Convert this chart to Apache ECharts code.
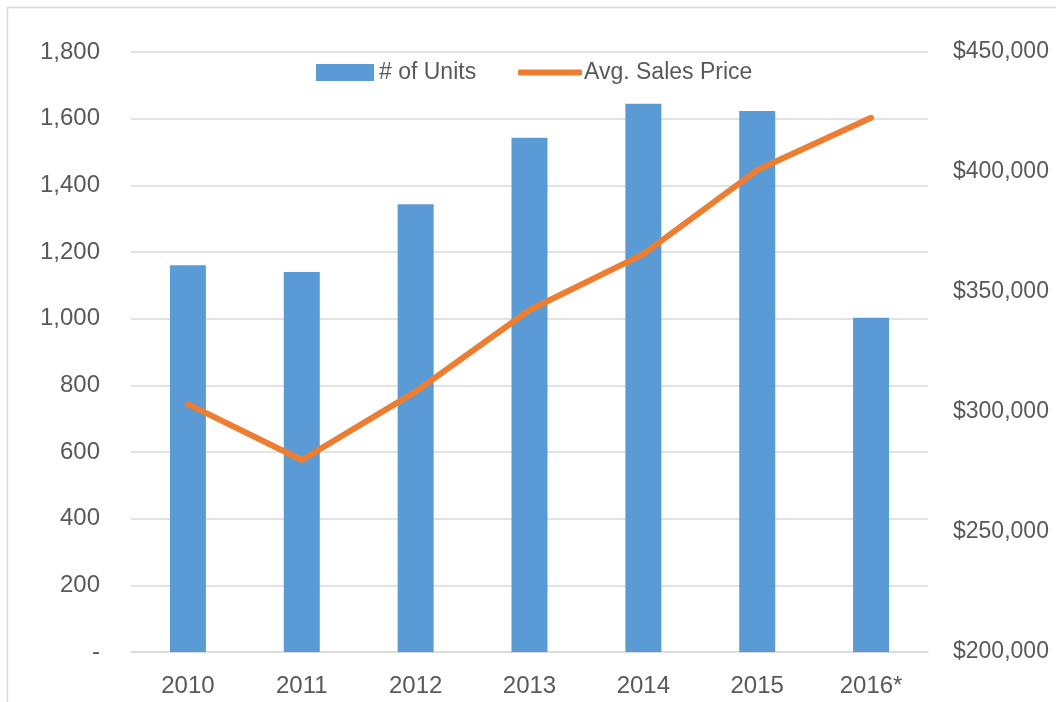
<!DOCTYPE html>
<html>
<head>
<meta charset="utf-8">
<title># of Units and Avg. Sales Price</title>
<script src="https://cdn.jsdelivr.net/npm/echarts@6/dist/echarts.min.js"></script>
<style>
  html, body { margin: 0; padding: 0; background: #ffffff; }
  #chart { width: 1056px; height: 702px; }
</style>
</head>
<body>
<div id="chart"></div>
<script>
// Yearly figures
const categories = ['2010', '2011', '2012', '2013', '2014', '2015', '2016*'];
const units = [1160, 1140, 1343, 1543, 1645, 1623, 1003];
const avgPrice = [303300, 280000, 308500, 342500, 365800, 400800, 422600];

// Axis ranges
const unitsAxis = { min: 0, max: 1800, interval: 200 };
const priceAxis = { min: 200000, max: 450000, interval: 50000 };

const textColor = '#595959';
const gridColor = '#d9d9d9';
const barColor = '#5b9bd5';
const lineColor = '#ed7d31';
const fontFamily = '"Liberation Sans", Arial, sans-serif';
const fontSize = 24;

function withCommas(v) {
  return String(Math.round(v)).replace(/\B(?=(\d{3})+(?!\d))/g, ',');
}

const chart = echarts.init(document.getElementById('chart'), null, { renderer: 'canvas' });

chart.setOption({
  animation: false,
  backgroundColor: '#ffffff',
  textStyle: { fontFamily: fontFamily },
  graphic: [{
    type: 'rect',
    silent: true,
    shape: { x: 7.5, y: 7.5, width: 1200, height: 900 },
    style: { fill: 'none', stroke: gridColor, lineWidth: 1.5 }
  }],
  legend: [
    {
      left: 311,
      top: 56,
      itemWidth: 58,
      itemHeight: 17,
      textStyle: { color: textColor, fontSize: fontSize - 1, fontFamily: fontFamily, padding: [0, 0, 0, 0] },
      data: [{ name: '# of Units', icon: 'rect' }]
    },
    {
      left: 513,
      top: 56,
      height: 24,
      itemWidth: 64,
      itemHeight: 6,
      textStyle: { color: textColor, fontSize: fontSize - 1, fontFamily: fontFamily, padding: [0, 0, 0, -3] },
      data: [{ name: 'Avg. Sales Price', icon: 'roundRect' }]
    }
  ],
  grid: { left: 131, right: 128, top: 52, bottom: 50, containLabel: false },
  xAxis: {
    type: 'category',
    data: categories,
    axisTick: { show: false },
    axisLine: { show: true, lineStyle: { color: gridColor, width: 1.5 } },
    axisLabel: { color: textColor, fontSize: fontSize, margin: 22, fontFamily: fontFamily }
  },
  yAxis: [
    {
      type: 'value',
      min: unitsAxis.min,
      max: unitsAxis.max,
      interval: unitsAxis.interval,
      axisLine: { show: false },
      axisTick: { show: false },
      splitLine: { lineStyle: { color: gridColor, width: 1.5 } },
      axisLabel: {
        color: textColor,
        fontSize: fontSize,
        margin: 31,
        fontFamily: fontFamily,
        formatter: v => (v === 0 ? '-' : withCommas(v))
      }
    },
    {
      type: 'value',
      min: priceAxis.min,
      max: priceAxis.max,
      interval: priceAxis.interval,
      axisLine: { show: false },
      axisTick: { show: false },
      splitLine: { show: false },
      axisLabel: {
        color: textColor,
        fontSize: fontSize - 1,
        margin: 25,
        fontFamily: fontFamily,
        formatter: v => '$' + withCommas(v)
      }
    }
  ],
  series: [
    {
      name: '# of Units',
      type: 'bar',
      yAxisIndex: 0,
      data: units,
      barWidth: 36,
      itemStyle: { color: barColor }
    },
    {
      name: 'Avg. Sales Price',
      type: 'line',
      yAxisIndex: 1,
      data: avgPrice,
      symbol: 'none',
      showSymbol: false,
      lineStyle: { color: lineColor, width: 6, cap: 'round', join: 'round' },
      itemStyle: { color: lineColor },
      z: 3
    }
  ]
});
</script>
</body>
</html>
